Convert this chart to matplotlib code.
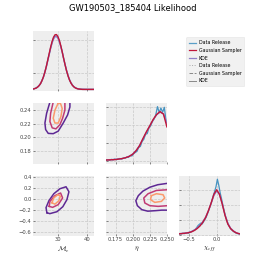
import numpy as np
import matplotlib
matplotlib.use('Agg')
from matplotlib import pyplot as plt
from matplotlib.lines import Line2D

plt.style.use('bmh')
plt.rcParams['font.family'] = ['DejaVu Sans']

##############################################
# Data
##############################################
title = 'GW190503_185404 Likelihood'

# 1D: chirp mass (grid step 0.5 from 21)
mc_start, mc_step = 21.0, 0.5
mc_gauss = [0.0007, 0.0013, 0.0023, 0.0041, 0.0070, 0.0114, 0.0177, 0.0266, 0.0382, 0.0528,
            0.0703, 0.0897, 0.1100, 0.1296, 0.1467, 0.1596, 0.1668, 0.1675, 0.1615, 0.1498,
            0.1333, 0.1140, 0.0937, 0.0741, 0.0562, 0.0410, 0.0286, 0.0193, 0.0124, 0.0078,
            0.0046, 0.0026, 0.0014, 0.0008, 0.0004, 0, 0, 0, 0, 0, 0, 0, 0, 0, 0]
mc_kde = [0.0009, 0.0016, 0.0027, 0.0046, 0.0075, 0.0119, 0.0181, 0.0268, 0.0380, 0.0520,
          0.0688, 0.0874, 0.1068, 0.1255, 0.1418, 0.1540, 0.1607, 0.1617, 0.1565, 0.1458,
          0.1306, 0.1126, 0.0934, 0.0747, 0.0574, 0.0424, 0.0300, 0.0205, 0.0134, 0.0085,
          0.0052, 0.0030, 0.0017, 0.0010, 0.0005, 0.0002, 0.0001, 0, 0, 0, 0, 0, 0, 0, 0]
mc_hist = [0.0008, 0.0012, 0.0025, 0.0040, 0.0075, 0.0118, 0.0170, 0.0275, 0.0372, 0.0535,
           0.0690, 0.0905, 0.1075, 0.1270, 0.1440, 0.1575, 0.1630, 0.1620, 0.1585, 0.1470,
           0.1320, 0.1150, 0.0925, 0.0750, 0.0560, 0.0420, 0.0290, 0.0200, 0.0130, 0.0080,
           0.0050, 0.0030, 0.0015, 0.0010, 0.0005, 0.0003, 0.0002, 0.0001, 0, 0, 0, 0, 0, 0, 0]

# 1D: eta (smooth curves on a 0.005 grid, data release on a 0.0025 grid)
eta_start, eta_step = 0.160, 0.005
eta_gauss = [0.3, 0.4, 0.5, 0.6, 0.9, 1.2, 1.7, 2.4, 3.6, 5.6, 8.4, 12.4, 16.2, 19.6, 23.2, 26.0,
             27.6, 26.2, 19.0]
eta_kde = [0.4, 0.5, 0.6, 0.7, 0.9, 1.2, 1.7, 2.5, 3.7, 5.7, 8.5, 12.3, 16.0, 19.5, 23.0, 25.8,
           27.3, 26.3, 21.0]
eta_hist_start, eta_hist_step = 0.16125, 0.0025
eta_hist = [0.3, 0.5, 0.2, 0.7, 0.4, 0.9, 0.5, 1.0, 1.2, 0.8, 1.5, 1.3, 2.0, 1.8, 2.9, 2.6, 3.8,
            4.6, 5.2, 7.4, 8.0, 10.8, 12.0, 14.8, 15.2, 18.4, 19.6, 22.0, 23.4, 25.8, 30.4, 27.0,
            29.6, 27.2, 30.0, 22.4]

# 1D: chi_eff (smooth curves on a 0.05 grid, data release on a 0.025 grid)
chi_start, chi_step = -0.70, 0.05
chi_gauss = [0.06, 0.08, 0.10, 0.12, 0.15, 0.21, 0.30, 0.43, 0.60, 0.84, 1.15, 1.60, 2.12, 2.70,
             3.00, 2.70, 2.05, 1.30, 0.73, 0.42, 0.25, 0.14, 0.08, 0.05]
chi_kde = [0.07, 0.09, 0.11, 0.13, 0.17, 0.23, 0.33, 0.47, 0.65, 0.88, 1.18, 1.60, 2.10, 2.62,
           2.92, 2.68, 2.08, 1.35, 0.78, 0.45, 0.27, 0.15, 0.09, 0.06]
chi_hist_start, chi_hist_step = -0.6875, 0.025
chi_hist = [0.05, 0.09, 0.06, 0.11, 0.08, 0.12, 0.14, 0.11, 0.18, 0.20, 0.26, 0.30, 0.36, 0.48,
            0.62, 0.70, 0.78, 0.72, 0.88, 1.02, 1.20, 1.44, 1.70, 1.96, 2.26, 2.60, 2.88, 3.20,
            3.70, 3.30, 2.80, 2.40, 1.96, 1.55, 1.18, 0.92, 0.66, 0.50, 0.36, 0.28, 0.20, 0.15,
            0.10, 0.08, 0.06, 0.04]

# 2D credible contours (outer / middle / inner), as (x, y) in data units
mceta_outer = [(27.24, 0.2519), (26.10, 0.2353), (25.52, 0.2210), (25.76, 0.2114), (26.66, 0.2057),
               (28.38, 0.2053), (30.10, 0.2090), (31.83, 0.2210), (33.34, 0.2329), (34.14, 0.2447),
               (34.14, 0.2519)]
mceta_middle = [(28.38, 0.2519), (27.48, 0.2353), (27.24, 0.2233), (28.03, 0.2139), (29.31, 0.2124),
                (30.69, 0.2186), (31.62, 0.2281), (32.41, 0.2400), (32.41, 0.2519)]
mceta_inner = [(30.10, 0.2504), (28.97, 0.2400), (28.38, 0.2281), (28.97, 0.2210), (30.10, 0.2210),
               (31.03, 0.2304), (31.48, 0.2424), (30.93, 0.2496)]

mcchi_outer = [(26.2, -0.255), (25.9, -0.164), (26.9, -0.036), (28.6, 0.091), (30.7, 0.182),
               (32.8, 0.218), (33.8, 0.127), (33.1, -0.018), (31.7, -0.146), (29.7, -0.237),
               (27.2, -0.273)]
mcchi_middle = [(27.0, -0.140), (27.24, -0.049), (28.97, 0.055), (30.93, 0.104), (31.62, 0.013),
                (30.10, -0.109), (28.17, -0.158)]
mcchi_inner = [(27.93, -0.073), (28.62, 0.018), (30.0, 0.073), (30.86, 0.046), (30.34, -0.036),
               (28.97, -0.100)]

etachi_outer = [(0.2515, 0.282), (0.2366, 0.255), (0.2250, 0.209), (0.2148, 0.137), (0.2082, 0.055),
                (0.2046, -0.036), (0.2068, -0.127), (0.2133, -0.200), (0.2221, -0.228),
                (0.2337, -0.218), (0.2425, -0.209), (0.2515, -0.209)]
etachi_middle = [(0.2515, 0.164), (0.2347, 0.151), (0.2225, 0.091), (0.2162, 0.013), (0.2177, -0.078),
                 (0.2250, -0.127), (0.2371, -0.140), (0.2515, -0.127)]
etachi_inner = [(0.2274, 0.055), (0.2347, 0.091), (0.2444, 0.073), (0.2468, 0.013), (0.2420, -0.049),
                (0.2323, -0.067), (0.2260, -0.018)]

labels = ['Data Release', 'Gaussian Sampler', 'KDE']

##############################################
# Style
##############################################
c_data = '#348ABD'
c_gauss = '#C0163A'
c_kde = '#8F80C8'
ring_colors = ['#5e2894', '#c13b75', '#fb9a6c']

mc_lim = (21.4, 42.4)
eta_lim = (0.161, 0.250)
chi_lim = (-0.68, 0.42)

fig, axes = plt.subplots(3, 3, figsize=(2.66, 2.66), dpi=100)
plt.subplots_adjust(left=0.124, right=0.902, bottom=0.113, top=0.883, wspace=0.2, hspace=0.2)

for ax in axes.flat:
    ax.set_facecolor('#eeeeee')
    for s in ax.spines.values():
        s.set_visible(False)
    ax.grid(True, color='#c8c8c8', linestyle='--', linewidth=0.5)
    ax.tick_params(labelsize=3.8, length=1.5, width=0.4, pad=1, colors='#444444')

for i, j in [(0, 1), (0, 2), (1, 2)]:
    axes[i, j].axis('off')


def diag(ax, start, step, gauss, kde, hstart, hstep, hist, xlim, ylim, yticks):
    grid = start + step * np.arange(len(gauss))
    centers = hstart + hstep * np.arange(len(hist))
    ax.plot(centers, hist, color=c_data, lw=0.9, alpha=0.9)
    ax.plot(grid, kde, color=c_kde, lw=1.0)
    ax.plot(grid, gauss, color=c_gauss, lw=1.0)
    ax.set_xlim(xlim)
    ax.set_ylim(ylim)
    ax.set_yticks(yticks)
    ax.set_yticklabels([])


def rings(ax, outer, middle, inner):
    for ring, col in zip([outer, middle, inner], ring_colors):
        pts = np.array(ring + ring[:1])
        ax.plot(pts[:, 0], pts[:, 1], color=col, lw=1.1)


diag(axes[0, 0], mc_start, mc_step, mc_gauss, mc_kde, mc_start, mc_step, mc_hist,
     mc_lim, (-0.006, 0.178), [0.05, 0.15])
diag(axes[1, 1], eta_start, eta_step, eta_gauss, eta_kde, eta_hist_start, eta_hist_step, eta_hist,
     eta_lim, (-1.7, 32.2), [0, 10, 20, 30])
diag(axes[2, 2], chi_start, chi_step, chi_gauss, chi_kde, chi_hist_start, chi_hist_step, chi_hist,
     chi_lim, (-0.07, 3.93), [0, 1, 2, 3])

rings(axes[1, 0], mceta_outer, mceta_middle, mceta_inner)
rings(axes[2, 0], mcchi_outer, mcchi_middle, mcchi_inner)
rings(axes[2, 1], etachi_outer, etachi_middle, etachi_inner)

# limits and ticks
for ax in axes[:, 0]:
    ax.set_xlim(mc_lim)
    ax.set_xticks([30, 40])
for ax in [axes[1, 1], axes[2, 1]]:
    ax.set_xlim(eta_lim)
    ax.set_xticks([0.175, 0.200, 0.225, 0.250])
axes[2, 2].set_xticks([-0.5, 0.0])

axes[1, 0].set_ylim(eta_lim)
axes[1, 0].set_yticks([0.18, 0.20, 0.22, 0.24])
axes[1, 0].set_yticklabels(['0.18', '0.20', '0.22', '0.24'])
for ax in [axes[2, 0], axes[2, 1]]:
    ax.set_ylim(chi_lim)
    ax.set_yticks([-0.6, -0.4, -0.2, 0.0, 0.2, 0.4])
axes[2, 1].set_yticklabels([])

for ax in [axes[0, 0], axes[1, 0], axes[1, 1]]:
    ax.set_xticklabels([])

axes[2, 1].set_xticklabels(['0.175', '0.200', '0.225', '0.250'])

axes[2, 0].set_xlabel(r'$\mathcal{M}_c$', fontsize=5, labelpad=1.5)
axes[2, 1].set_xlabel(r'$\eta$', fontsize=5, labelpad=1.5)
axes[2, 2].set_xlabel(r'$\chi_{eff}$', fontsize=5, labelpad=1.5)

fig.suptitle(title, fontsize=6, y=0.988)

handles = [Line2D([], [], color=c_data, lw=0.9, alpha=0.8),
           Line2D([], [], color=c_gauss, lw=0.9),
           Line2D([], [], color=c_kde, lw=0.9),
           Line2D([], [], color='#aaaaaa', lw=0.7, ls=':'),
           Line2D([], [], color='#888888', lw=0.7, ls='--'),
           Line2D([], [], color='#888888', lw=0.7, ls='-')]
fig.legend(handles, labels + labels, loc='upper right', bbox_to_anchor=(0.928, 0.868),
           fontsize=3.4, frameon=True, facecolor='#eeeeee', edgecolor='#e4e4e4',
           handlelength=1.6, borderpad=0.6, labelspacing=0.55, handletextpad=0.6)

plt.savefig('out.png', dpi=100)
